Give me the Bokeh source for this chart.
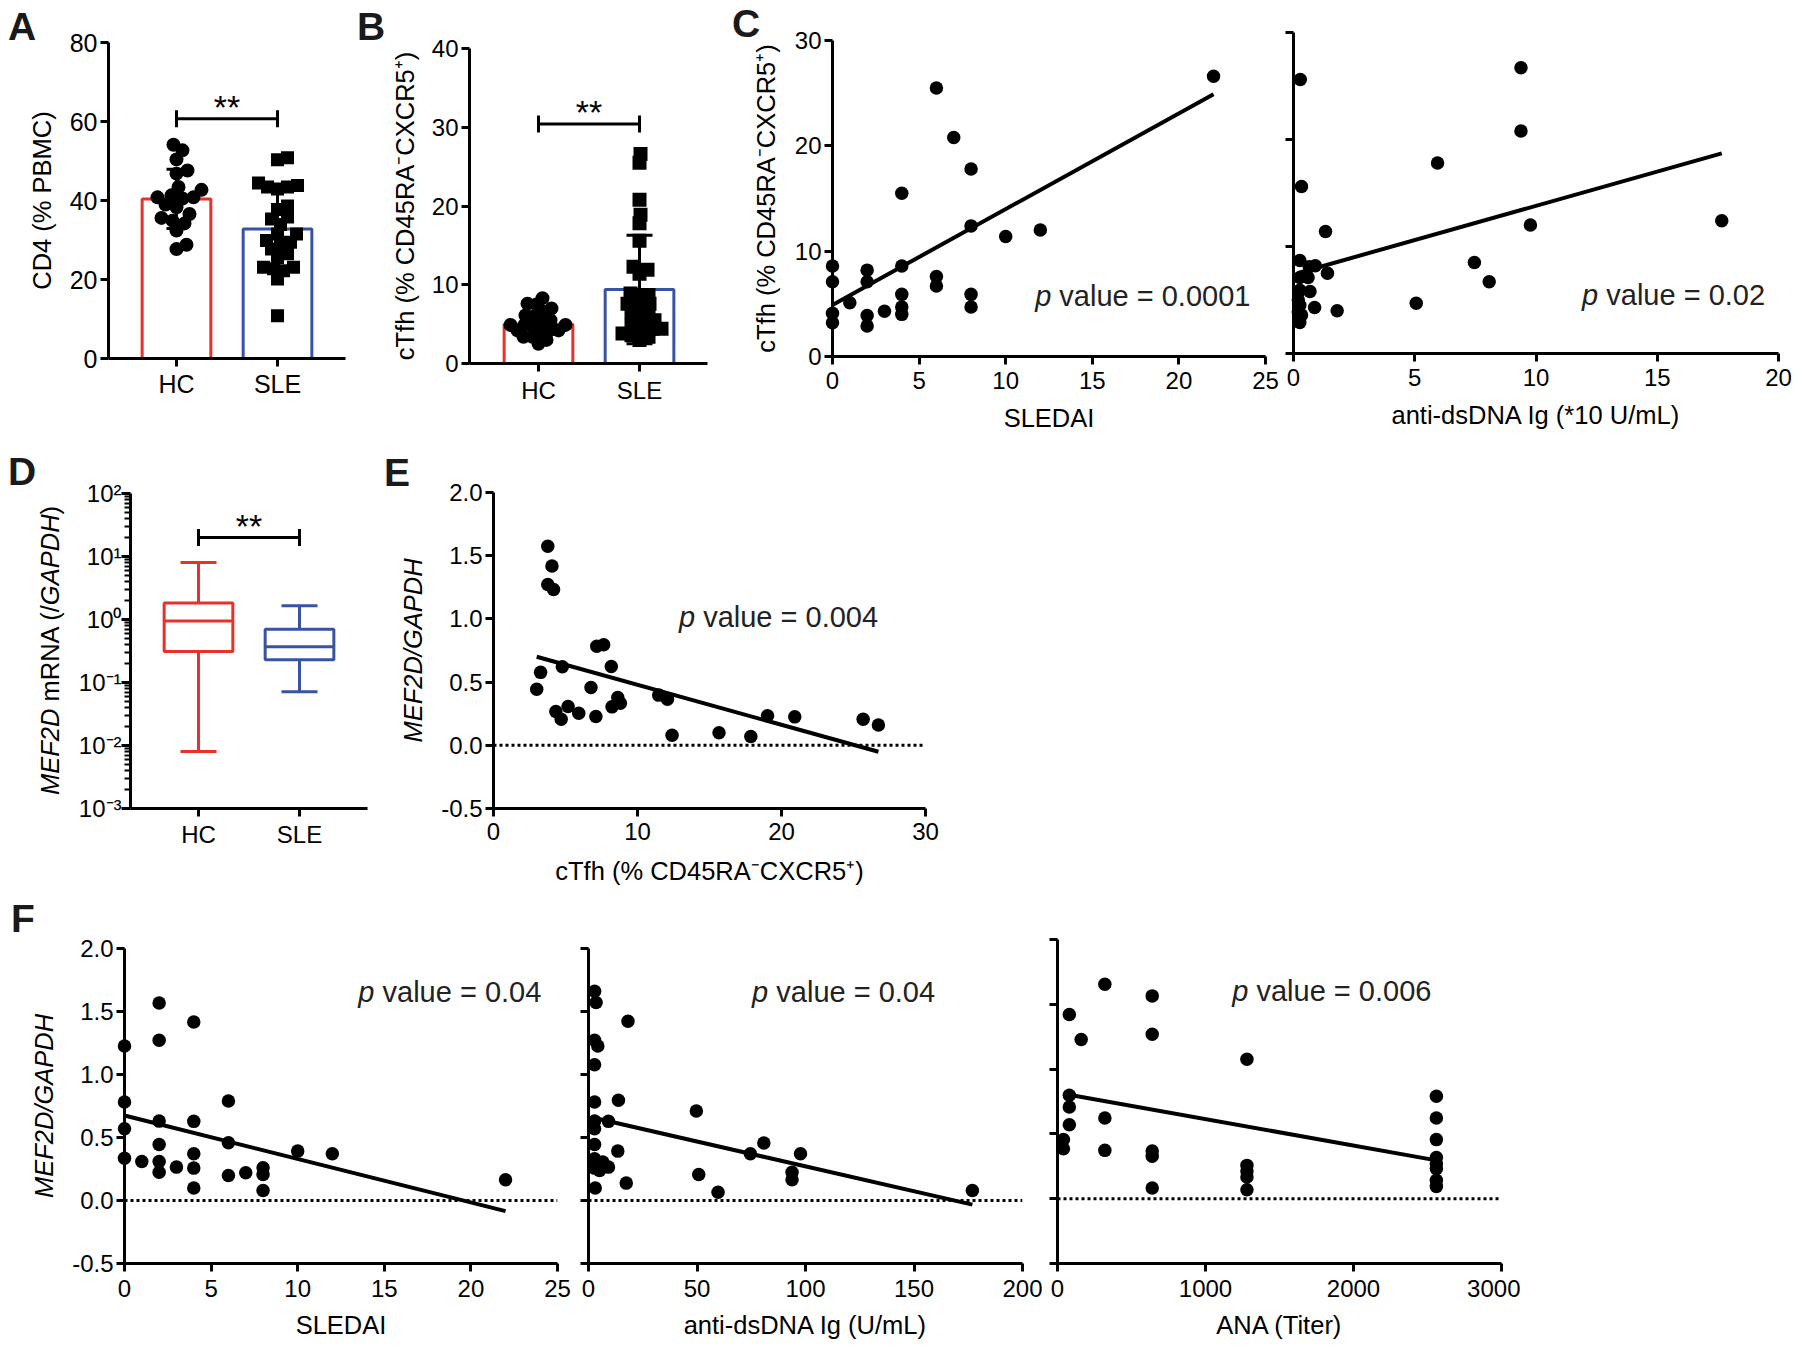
import math
from bokeh.plotting import figure
from bokeh.layouts import row, column
from bokeh.models import (FixedTicker, CustomJSTickFormatter, PrintfTickFormatter,
                          Label, Span, Whisker, TeeHead, ColumnDataSource, Range1d, Div)
from bokeh.embed import file_html
from bokeh.resources import INLINE

FONT = "Liberation Sans"
RED = "#E8312A"
BLUE = "#3953A4"
PTXT = "#222222"

# ---------------- data ----------------
categories = ["HC", "SLE"]
cat_colors = [RED, BLUE]

# A: CD4 (% PBMC)
cd4_hc = [54.1, 52.7, 50.4, 47.6, 46.8, 43.4, 42.7, 41.3, 40.8, 40.8, 40.5, 39.0,
          38.3, 36.6, 35.6, 34.9, 34.2, 32.4, 28.8, 27.7]
cd4_sle = [50.3, 50.8, 43.8, 43.4, 44.4, 42.9, 43.4, 37.7, 38.6, 35.3, 35.8, 33.9,
           31.5, 31.5, 29.9, 28.8, 27.7, 26.5, 25.6, 23.1, 23.1, 22.2, 20.1, 22.7,
           10.8, 29.4]
cd4_mean = [40.4, 32.8]
cd4_sd = [7.5, 9.8]
cd4_sig = 60.7

# B: cTfh (% CD45RA-CXCR5+)
ctfh_hc = [8.3, 7.6, 7.5, 7.0, 6.6, 6.1, 6.0, 5.5, 5.3, 4.9, 4.9, 4.9, 4.7, 4.2,
           4.2, 4.2, 4.0, 3.4, 3.4, 3.0, 2.5]
ctfh_sle = [26.6, 25.5, 20.8, 18.9, 17.8, 15.6, 11.9, 12.3, 11.4, 8.7, 8.7, 8.9,
            7.6, 7.6, 7.2, 6.6, 6.4, 6.1, 5.5, 5.3, 4.4, 4.4, 4.4, 3.8, 3.6, 3.4,
            3.0, 4.9]
ctfh_mean = [5.0, 9.4]
ctfh_sd = [1.5, 6.9]
ctfh_sig = 30.4

# C1: SLEDAI vs cTfh
sledai_c = [0, 0, 0, 0, 1, 2, 2, 2, 2, 3, 4, 4, 4, 4, 4, 6, 6, 6, 7, 8, 8, 8, 8,
            10, 12, 22]
ctfh_c1 = [8.6, 7.1, 4.1, 3.2, 5.1, 8.2, 7.1, 3.9, 2.9, 4.3, 15.5, 8.6, 5.9, 4.7,
           4.0, 25.5, 7.6, 6.7, 20.8, 17.8, 12.4, 5.9, 4.7, 11.4, 12.0, 26.6]
c1_fit = [4.9, 0.909]        # intercept, slope
c1_p = "0.0001"

# C2: anti-dsDNA (*10 U/mL) vs cTfh
dsdna_c = [0.28, 0.33, 1.32, 0.26, 0.65, 0.9, 1.4, 0.26, 0.6, 0.26, 0.68, 0.2,
           0.26, 0.87, 0.2, 0.33, 0.26, 1.8, 5.06, 5.94, 7.46, 8.07, 9.38, 9.38,
           9.77, 17.66]
ctfh_c2 = [25.6, 15.6, 11.4, 8.7, 8.1, 8.2, 7.5, 7.1, 7.1, 5.9, 5.8, 5.0, 4.5,
           4.3, 3.9, 3.6, 2.9, 4.0, 4.7, 17.8, 8.5, 6.7, 26.7, 20.8, 12.0, 12.4]
c2_fit = [7.4, 0.64]
c2_p = "0.02"

# D: MEF2D mRNA box plot
mef_lo = [0.008, 0.071]
mef_q1 = [0.31, 0.23]
mef_med = [0.95, 0.37]
mef_q3 = [1.82, 0.70]
mef_hi = [8.0, 1.65]
mef_sig = 20.0

# E: cTfh vs MEF2D/GAPDH
ctfh_e = [3.77, 4.06, 3.77, 4.17, 3.0, 3.27, 4.78, 4.33, 4.7, 5.18, 5.92, 6.77,
          7.11, 7.17, 7.65, 8.18, 8.23, 8.63, 8.81, 11.47, 12.08, 12.4, 15.66,
          17.87, 19.03, 20.92, 25.67, 26.73]
mef_e = [1.574, 1.418, 1.272, 1.233, 0.444, 0.577, 0.622, 0.267, 0.206, 0.307,
         0.254, 0.458, 0.228, 0.783, 0.796, 0.624, 0.304, 0.378, 0.333, 0.397,
         0.365, 0.079, 0.1, 0.069, 0.233, 0.225, 0.206, 0.161]
e_fit = [0.796, -0.0317]
e_p = "0.004"

# F1: SLEDAI vs MEF2D/GAPDH
sledai_f = [0, 0, 0, 0, 1, 2, 2, 2, 2, 2, 2, 3, 4, 4, 4, 4, 4, 6, 6, 6, 7, 8, 8,
            8, 10, 12, 22]
mef_f1 = [1.226, 0.781, 0.57, 0.336, 0.31, 1.568, 1.272, 0.63, 0.445, 0.31,
          0.225, 0.265, 1.417, 0.628, 0.371, 0.257, 0.1, 0.789, 0.458, 0.199,
          0.22, 0.26, 0.207, 0.08, 0.392, 0.371, 0.164]
f1_fit = [0.675, -0.0345]
f1_p = "0.04"

# F2: anti-dsDNA (U/mL) vs MEF2D/GAPDH
dsdna_f = [2.8, 3.5, 18.2, 2.8, 4.3, 2.8, 2.8, 13.8, 49.7, 2.8, 9.2, 2.8, 2.8,
           80.8, 13.5, 74.6, 97.7, 2.8, 6.6, 9.2, 2.8, 5.1, 93.8, 50.8, 93.8,
           17.4, 3.1, 59.7, 176.9]
mef_f2 = [1.661, 1.571, 1.423, 1.272, 1.226, 1.078, 0.781, 0.795, 0.71, 0.63,
          0.628, 0.57, 0.445, 0.456, 0.392, 0.371, 0.371, 0.331, 0.305, 0.265,
          0.257, 0.238, 0.225, 0.207, 0.164, 0.138, 0.1, 0.066, 0.079]
f2_fit = [0.666, -0.00395]
f2_p = "0.04"

# F3: ANA titer vs MEF2D/GAPDH
ana_f = [320, 640, 80, 160, 640, 1280, 80, 80, 80, 320, 40, 40, 320, 640, 640,
         640, 1280, 1280, 1280, 1280, 2560, 2560, 2560, 2560, 2560, 2560, 2560,
         2560]
mef_f3 = [1.655, 1.565, 1.421, 1.228, 1.269, 1.076, 0.798, 0.708, 0.571, 0.623,
          0.456, 0.386, 0.373, 0.368, 0.327, 0.082, 0.257, 0.214, 0.167, 0.069,
          0.79, 0.623, 0.456, 0.317, 0.27, 0.232, 0.142, 0.095]
f3_fit = [0.818, -0.000204]
f3_p = "0.006"

CTFH_LABEL = "cTfh (% CD45RA\u207bCXCR5\u207a)"
MEF_LABEL = "MEF2D/GAPDH"

# ---------------- layout geometry ----------------
TOP = 18  # common top border inside every figure


def make_fig(cx, w, row_top, bottom_border, frame, x_range, y_range, y_type="linear"):
    fl, fr, ft, fb = frame
    mt = int(round(ft - TOP - row_top))
    h = int(round(TOP + (fb - ft) + bottom_border))
    p = figure(width=w, height=h, x_range=x_range, y_range=y_range,
               y_axis_type=y_type, output_backend="svg", toolbar_location=None,
               title=None, margin=(mt, 0, 0, 0),
               min_border_left=int(round(fl - cx)), min_border_right=int(round(cx + w - fr)),
               min_border_top=TOP, min_border_bottom=int(bottom_border))
    p.outline_line_color = None
    p.xgrid.visible = False
    p.ygrid.visible = False
    p.background_fill_color = "white"
    p.border_fill_color = "white"
    return p


def style_axis(ax, tick_size=24, label_size=25.5, tick_out=8, standoff=4,
               label_standoff=10, italic=False):
    ax.axis_line_width = 3
    ax.axis_line_color = "black"
    ax.major_tick_line_width = 3
    ax.major_tick_line_color = "black"
    ax.major_tick_out = tick_out
    ax.major_tick_in = 0
    ax.minor_tick_line_color = None
    ax.major_label_text_font = FONT
    ax.major_label_text_font_size = f"{tick_size}px"
    ax.major_label_text_color = "black"
    ax.major_label_standoff = standoff
    ax.axis_label_text_font = FONT
    ax.axis_label_text_font_size = f"{label_size}px"
    ax.axis_label_text_font_style = "italic" if italic else "normal"
    ax.axis_label_text_color = "black"
    ax.axis_label_standoff = label_standoff


def blank_labels(ax):
    ax.formatter = CustomJSTickFormatter(code="return '';")
    ax.major_label_standoff = 0


def cat_axis(ax):
    ax.ticker = FixedTicker(ticks=list(range(1, len(categories) + 1)))
    ax.formatter = CustomJSTickFormatter(args=dict(labels=categories), code="""
        const i = Math.round(tick) - 1;
        return (i >= 0 && i < labels.length) ? labels[i] : '';
    """)


overlays = []


def letter(text, x_abs, base_abs, size=39):
    top = base_abs - (0.905 - 0.0585) * size
    html = (f'<div style="font-family:\'{FONT}\';font-weight:bold;font-size:{size}px;'
            f'line-height:{size}px;color:#1a1a1a;white-space:nowrap;margin:0;padding:0">'
            f'{text}</div>')
    overlays.append(Div(text=html, styles={"position": "absolute", "left": f"{x_abs:.1f}px",
                                           "top": f"{top:.1f}px", "margin": "0",
                                           "padding": "0", "z-index": "10"}))


def vertical_label(html_text, center_x, start_y, size=25.5):
    left = center_x - 0.49 * size
    html = (f'<div style="font-family:\'{FONT}\';font-size:{size}px;line-height:{size}px;'
            f'color:black;white-space:nowrap;margin:0;padding:0;transform:rotate(-90deg);'
            f'transform-origin:0 0;">{html_text}</div>')
    overlays.append(Div(text=html, styles={"position": "absolute", "left": f"{left:.1f}px",
                                           "top": f"{start_y:.1f}px", "margin": "0",
                                           "padding": "0", "z-index": "10"}))


def pval(p, x, y, txt, size=29):
    p.add_layout(Label(x=x, y=y, y_offset=10, text="p", text_font=FONT,
                       text_font_style="italic", text_font_size=f"{size}px",
                       text_baseline="alphabetic", text_color=PTXT))
    p.add_layout(Label(x=x, y=y, y_offset=10, x_offset=0.834 * size, text=f"value = {txt}",
                       text_font=FONT, text_font_size=f"{size}px",
                       text_baseline="alphabetic", text_color=PTXT))


def sig_bracket(p, y):
    xs = list(range(1, len(categories) + 1))
    p.line(x=[xs[0], xs[-1]], y=[y, y], line_width=3, line_color="black")
    p.scatter(x=[xs[0], xs[-1]], y=[y, y], marker="dash", angle=math.pi / 2,
              size=17, line_width=3, line_color="black")
    p.add_layout(Label(x=(xs[0] + xs[-1]) / 2, y=y, y_offset=12, text="**",
                       text_font=FONT, text_font_size="34px", text_align="center",
                       text_baseline="alphabetic", text_color="black"))


def swarm(vals, center, px_x, px_y, d):
    placed = []
    xs = [center] * len(vals)
    order = sorted(range(len(vals)), key=lambda i: vals[i])
    for i in order:
        y = vals[i] * px_y
        k = 0
        found = None
        while found is None:
            for off in ([0] if k == 0 else [k, -k]):
                if all((off - px) ** 2 + (y - py) ** 2 >= d * d for px, py in placed):
                    found = off
                    break
            k += 1
        placed.append((found, y))
        xs[i] = center + found / px_x
    return xs


def fit_line(p, xs, fit):
    a, b = fit
    x0, x1 = min(xs), max(xs)
    p.line(x=[x0, x1], y=[a + b * x0, a + b * x1], line_width=4, line_color="black")


def dots(p, xs, ys, size=13.5):
    r = p.scatter(x=xs, y=ys, marker="circle", size=size, fill_color="black", line_color=None)
    r.level = "overlay"


def dot_plot(p, hc, sle, means, sds, px_y, size_c, size_s, cap, dfac):
    xs = list(range(1, len(categories) + 1))
    p.vbar(x=xs, top=means, width=0.68, bottom=0, fill_color="white",
           line_color=cat_colors, line_width=3)
    hx = swarm(hc, xs[0], 101, px_y, size_c * dfac)
    sx = swarm(sle, xs[1], 101, px_y, size_s * dfac)
    p.scatter(x=hx, y=hc, marker="circle", size=size_c, fill_color="black", line_color=None)
    p.scatter(x=sx, y=sle, marker="square", size=size_s, fill_color="black", line_color=None)
    src = ColumnDataSource(dict(x=xs, upper=[m + s for m, s in zip(means, sds)],
                                lower=[m - s for m, s in zip(means, sds)]))
    w = Whisker(source=src, base="x", upper="upper", lower="lower", line_width=3,
                line_color="black", level="overlay",
                upper_head=TeeHead(size=cap, line_width=3, line_color="black"),
                lower_head=TeeHead(size=cap, line_width=3, line_color="black"))
    p.add_layout(w)


# ---------------- frames (absolute page px: left, right, top, bottom) ----------------
frA = (108, 345, 42, 358)
frB = (469, 707, 48, 363)
frC1 = (832, 1265, 40, 356)
frC2 = (1293, 1778, 32, 353)
frD = (130, 367, 493, 808)
frE = (493, 925, 492, 808)
frF1 = (124, 557, 948, 1263)
frF2 = (588, 1022, 948, 1263)
frF3 = (1057, 1501, 939, 1263)

BOT1, BOT2, BOT3 = 90, 90, 84
ROW1 = 0
ROW2 = max(f[3] for f in (frA, frB, frC1, frC2)) + BOT1
ROW3 = max(f[3] for f in (frD, frE)) + BOT2

# ---------------- Panel A ----------------
pA = make_fig(0, 350, ROW1, BOT1, frA, Range1d(0.327, 2.673), Range1d(0, 80))
dot_plot(pA, cd4_hc, cd4_sle, cd4_mean, cd4_sd, (frA[3] - frA[2]) / 80, 14, 13, 20, 0.75)
sig_bracket(pA, cd4_sig)
style_axis(pA.xaxis[0], tick_size=25, standoff=3)
style_axis(pA.yaxis[0], tick_size=25, standoff=3, label_standoff=11)
cat_axis(pA.xaxis[0])
pA.yaxis[0].ticker = FixedTicker(ticks=[0, 20, 40, 60, 80])
pA.yaxis[0].axis_label = "CD4 (% PBMC)"
letter("A", 8, 40)

# ---------------- Panel B ----------------
pB = make_fig(350, 370, ROW1, BOT1, frB, Range1d(0.317, 2.673), Range1d(0, 40))
dot_plot(pB, ctfh_hc, ctfh_sle, ctfh_mean, ctfh_sd, (frB[3] - frB[2]) / 40, 14, 14, 26, 0.62)
sig_bracket(pB, ctfh_sig)
style_axis(pB.xaxis[0], standoff=5)
style_axis(pB.yaxis[0], standoff=3, label_standoff=10)
cat_axis(pB.xaxis[0])
pB.yaxis[0].ticker = FixedTicker(ticks=[0, 10, 20, 30, 40])
pB.yaxis[0].axis_label = CTFH_LABEL
letter("B", 357, 40)

# ---------------- Panel C1 ----------------
pC1 = make_fig(720, 560, ROW1, BOT1, frC1, Range1d(0, 25), Range1d(0, 30))
fit_line(pC1, sledai_c, c1_fit)
dots(pC1, sledai_c, ctfh_c1)
style_axis(pC1.xaxis[0], standoff=7, label_standoff=12)
style_axis(pC1.yaxis[0], standoff=3, label_standoff=12)
pC1.xaxis[0].ticker = FixedTicker(ticks=[0, 5, 10, 15, 20, 25])
pC1.yaxis[0].ticker = FixedTicker(ticks=[0, 10, 20, 30])
pC1.xaxis[0].axis_label = "SLEDAI"
pC1.yaxis[0].axis_label = CTFH_LABEL
pval(pC1, 11.7, 4.84, c1_p)
letter("C", 732, 37)

# ---------------- Panel C2 ----------------
pC2 = make_fig(1280, 512, ROW1, BOT1, frC2, Range1d(0, 20), Range1d(0, 30))
fit_line(pC2, dsdna_c, c2_fit)
dots(pC2, dsdna_c, ctfh_c2)
style_axis(pC2.xaxis[0], standoff=7, label_standoff=12)
style_axis(pC2.yaxis[0])
blank_labels(pC2.yaxis[0])
pC2.xaxis[0].ticker = FixedTicker(ticks=[0, 5, 10, 15, 20])
pC2.yaxis[0].ticker = FixedTicker(ticks=[0, 10, 20, 30])
pC2.xaxis[0].axis_label = "anti-dsDNA Ig (*10 U/mL)"
pval(pC2, 11.9, 4.5, c2_p)

# ---------------- Panel D ----------------
pD = make_fig(0, 380, ROW2, BOT2, frD, Range1d(0.327, 2.673), Range1d(1e-3, 1e2), y_type="log")
xsD = list(range(1, len(categories) + 1))
for i, c in enumerate(cat_colors):
    srcw = ColumnDataSource(dict(x=[xsD[i]], lo=[mef_lo[i]], hi=[mef_hi[i]]))
    pD.add_layout(Whisker(source=srcw, base="x", upper="hi", lower="lo", line_width=3,
                          line_color=c, level="underlay",
                          upper_head=TeeHead(size=36, line_width=3, line_color=c),
                          lower_head=TeeHead(size=36, line_width=3, line_color=c)))
pD.vbar(x=xsD, bottom=mef_q1, top=mef_q3, width=0.68, fill_color="white",
        line_color=cat_colors, line_width=3)
pD.segment(x0=[x - 0.34 for x in xsD], x1=[x + 0.34 for x in xsD], y0=mef_med, y1=mef_med,
           line_color=cat_colors, line_width=3)
sig_bracket(pD, mef_sig)
style_axis(pD.xaxis[0], standoff=4)
style_axis(pD.yaxis[0], standoff=0, tick_out=9)
cat_axis(pD.xaxis[0])
yD = pD.yaxis[0]
yD.ticker = FixedTicker(ticks=[10.0 ** e for e in range(-3, 3)],
                        minor_ticks=[m * 10.0 ** e for e in range(-3, 2) for m in range(2, 10)])
yD.minor_tick_line_color = "black"
yD.minor_tick_line_width = 2
yD.minor_tick_out = 6
yD.minor_tick_in = 0
yD.formatter = CustomJSTickFormatter(code="""
    const sup = {'0':'\u2070','1':'\u00b9','2':'\u00b2','3':'\u00b3','4':'\u2074',
                 '5':'\u2075','6':'\u2076','7':'\u2077','8':'\u2078','9':'\u2079','-':'\u207b'};
    const e = Math.round(Math.log10(tick));
    return '10' + String(e).split('').map(c => sup[c]).join('');
""")
vertical_label("<i>MEF2D</i> mRNA (/<i>GAPDH</i>)", 50, 795)
letter("D", 8, 485)

# ---------------- Panel E ----------------
pE = make_fig(380, 565, ROW2, BOT2, frE, Range1d(0, 30), Range1d(-0.5, 2.0))
pE.add_layout(Span(location=0, dimension="width", line_color="black", line_width=3,
                   line_dash="3 3"))
fit_line(pE, ctfh_e, e_fit)
dots(pE, ctfh_e, mef_e)
style_axis(pE.xaxis[0], standoff=6, label_standoff=14)
style_axis(pE.yaxis[0], standoff=3, label_standoff=11, italic=True)
pE.xaxis[0].ticker = FixedTicker(ticks=[0, 10, 20, 30])
pE.yaxis[0].ticker = FixedTicker(ticks=[-0.5, 0, 0.5, 1.0, 1.5, 2.0])
pE.yaxis[0].formatter = PrintfTickFormatter(format="%.1f")
pE.xaxis[0].axis_label = CTFH_LABEL
pE.yaxis[0].axis_label = MEF_LABEL
pval(pE, 12.88, 0.934, e_p)
letter("E", 384, 486)

# ---------------- Panel F ----------------
def f_panel(cx, w, frame, xr, xs, ys, fit, ptxt, ppos, xticks, xlabel, first):
    p = make_fig(cx, w, ROW3, BOT3, frame, Range1d(*xr), Range1d(-0.5, 2.0))
    p.add_layout(Span(location=0, dimension="width", line_color="black", line_width=3,
                      line_dash="3 3"))
    fit_line(p, xs, fit)
    dots(p, xs, ys)
    style_axis(p.xaxis[0], standoff=8, label_standoff=11)
    style_axis(p.yaxis[0], standoff=3, label_standoff=11, italic=True)
    p.xaxis[0].ticker = FixedTicker(ticks=xticks)
    p.yaxis[0].ticker = FixedTicker(ticks=[-0.5, 0, 0.5, 1.0, 1.5, 2.0])
    if first:
        p.yaxis[0].formatter = PrintfTickFormatter(format="%.1f")
        p.yaxis[0].axis_label = MEF_LABEL
    else:
        blank_labels(p.yaxis[0])
    p.xaxis[0].axis_label = xlabel
    pval(p, ppos[0], ppos[1], ptxt)
    return p

pF1 = f_panel(0, 571, frF1, (0, 25), sledai_f, mef_f1, f1_fit, f1_p,
              (13.5, 1.574), [0, 5, 10, 15, 20, 25], "SLEDAI", True)
letter("F", 11, 932)
pF2 = f_panel(571, 471, frF2, (0, 200), dsdna_f, mef_f2, f2_fit, f2_p,
              (75.4, 1.574), [0, 50, 100, 150, 200], "anti-dsDNA Ig (U/mL)", False)
pF3 = f_panel(1042, 478, frF3, (0, 3000), ana_f, mef_f3, f3_fit, f3_p,
              (1181, 1.524), [0, 1000, 2000, 3000], "ANA (Titer)", False)

layout = column(row(pA, pB, pC1, pC2), row(pD, pE), row(pF1, pF2, pF3), *overlays,
                styles={"position": "relative"})

with open("out.html", "w", encoding="utf-8") as f:
    f.write(file_html(layout, INLINE))
